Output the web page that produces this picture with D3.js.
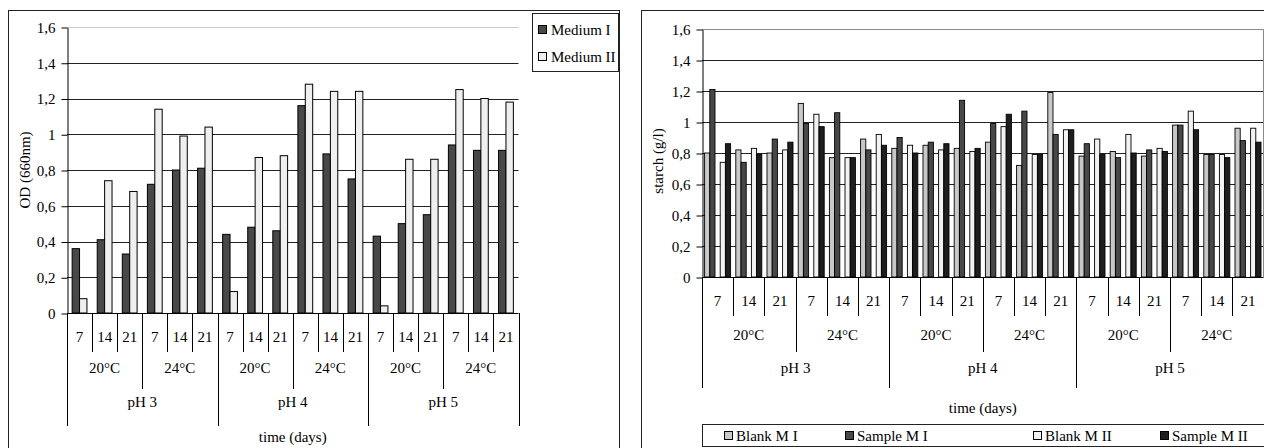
<!DOCTYPE html>
<html>
<head>
<meta charset="utf-8">
<script src="https://cdn.jsdelivr.net/npm/d3@7"></script>
<style>
  html, body { margin: 0; padding: 0; background: #fff; }
  svg { display: block; font-family: "Liberation Serif", "Times New Roman", serif; }
</style>
</head>
<body>
<svg id="chart" width="1264" height="448"></svg>
<script>
// category levels
var days = ["7", "14", "21"];
var temps = ["20°C", "24°C"];
var phs = ["pH 3", "pH 4", "pH 5"];
var yTicks = [0, 0.2, 0.4, 0.6, 0.8, 1.0, 1.2, 1.4, 1.6];

// left chart: OD (660nm)
var odMediumI  = [0.36, 0.41, 0.33, 0.72, 0.80, 0.81, 0.44, 0.48, 0.46, 1.16, 0.89, 0.75, 0.43, 0.50, 0.55, 0.94, 0.91, 0.91];
var odMediumII = [0.08, 0.74, 0.68, 1.14, 0.99, 1.04, 0.12, 0.87, 0.88, 1.28, 1.24, 1.24, 0.04, 0.86, 0.86, 1.25, 1.20, 1.18];

// right chart: starch (g/l)
var blankMI   = [0.80, 0.82, 0.80, 1.12, 0.77, 0.89, 0.83, 0.85, 0.83, 0.87, 0.72, 1.19, 0.78, 0.81, 0.78, 0.98, 0.79, 0.96];
var sampleMI  = [1.21, 0.74, 0.89, 0.99, 1.06, 0.82, 0.90, 0.87, 1.14, 0.99, 1.07, 0.92, 0.86, 0.77, 0.82, 0.98, 0.79, 0.88];
var blankMII  = [0.74, 0.83, 0.82, 1.05, 0.77, 0.92, 0.85, 0.82, 0.81, 0.97, 0.79, 0.95, 0.89, 0.92, 0.83, 1.07, 0.79, 0.96];
var sampleMII = [0.86, 0.79, 0.87, 0.97, 0.77, 0.85, 0.80, 0.86, 0.83, 1.05, 0.79, 0.95, 0.79, 0.80, 0.81, 0.95, 0.77, 0.87];

var FS = 15;

var cats = [];
phs.forEach(function(p){ temps.forEach(function(t){ days.forEach(function(d){
    cats.push({ph: p, temp: t, day: d});
}); }); });

var svg = d3.select("#chart");

function fmt(v){ return String(+v.toFixed(1)).replace(".", ","); }

/**
 * draws one panel: frame, grid, axes, category levels
 */
function drawPanel(cfg){
    var g = svg.append("g");

    g.append("rect")
        .attr("x", cfg.frame[0] + 0.5).attr("y", cfg.frame[1] + 0.5)
        .attr("width", cfg.frame[2]).attr("height", cfg.frame[3])
        .attr("fill", "#fff").attr("stroke", "#222").attr("stroke-width", 1);

    var x = d3.scaleBand().domain(d3.range(cats.length)).range([cfg.x0, cfg.x1]);
    var y = d3.scaleLinear().domain([0, 1.6]).range([cfg.yZero, cfg.yTop]);

    // grid lines
    g.selectAll(".grid").data(yTicks.filter(function(v){ return v > 0; }))
        .enter().append("line")
        .attr("x1", cfg.x0).attr("x2", cfg.x1)
        .attr("y1", function(d){ return Math.round(y(d)) + 0.5; })
        .attr("y2", function(d){ return Math.round(y(d)) + 0.5; })
        .attr("stroke", function(d){ return d === 1.6 ? cfg.topColor : "#222"; })
        .attr("stroke-width", 1);

    if (cfg.rightBorder) {
        g.append("line")
            .attr("x1", Math.round(cfg.x1) - 0.5).attr("x2", Math.round(cfg.x1) - 0.5)
            .attr("y1", Math.round(y(1.6)) + 0.5).attr("y2", cfg.yZero)
            .attr("stroke", cfg.topColor);
    }

    cfg.drawBars(g, x, y);

    // y axis
    var yAxis = d3.axisLeft(y).tickValues(yTicks).tickSize(6).tickSizeOuter(0).tickPadding(6).tickFormat(fmt);
    var ya = g.append("g")
        .attr("transform", "translate(" + (cfg.x0 + 0.5) + ",0.5)")
        .call(yAxis);
    ya.attr("font-family", null);
    ya.selectAll("text").attr("font-size", FS).attr("fill", "#000");
    ya.selectAll("line, path").attr("stroke", "#000");

    // category axis line
    g.append("line")
        .attr("x1", cfg.x0).attr("x2", cfg.x1)
        .attr("y1", cfg.yZero + 0.5).attr("y2", cfg.yZero + 0.5)
        .attr("stroke", "#000");

    // level separators
    var bounds = d3.range(cats.length + 1);
    g.selectAll(".sep").data(bounds).enter().append("line")
        .attr("x1", function(i){ return Math.round(i < cats.length ? x(i) : cfg.x1) + 0.5; })
        .attr("x2", function(i){ return Math.round(i < cats.length ? x(i) : cfg.x1) + 0.5; })
        .attr("y1", cfg.yZero)
        .attr("y2", function(i){ return i % 6 === 0 ? cfg.levels[2] : (i % 3 === 0 ? cfg.levels[1] : cfg.levels[0]); })
        .attr("stroke", "#000");

    // day labels
    g.selectAll(".day").data(cats).enter().append("text")
        .attr("x", function(d, i){ return x(i) + x.bandwidth() / 2; })
        .attr("y", cfg.labelY[0])
        .attr("text-anchor", "middle").attr("dominant-baseline", "central")
        .attr("font-size", FS)
        .text(function(d){ return d.day; });

    // temperature labels
    var tempGroups = d3.range(cats.length / 3);
    g.selectAll(".temp").data(tempGroups).enter().append("text")
        .attr("x", function(k){ return x(k * 3) + x.step() * 1.5; })
        .attr("y", cfg.labelY[1])
        .attr("text-anchor", "middle").attr("dominant-baseline", "central")
        .attr("font-size", FS)
        .text(function(k){ return cats[k * 3].temp; });

    // pH labels
    var phGroups = d3.range(cats.length / 6);
    g.selectAll(".ph").data(phGroups).enter().append("text")
        .attr("x", function(k){ return x(k * 6) + x.step() * 3; })
        .attr("y", cfg.labelY[2])
        .attr("text-anchor", "middle").attr("dominant-baseline", "central")
        .attr("font-size", FS)
        .text(function(k){ return cats[k * 6].ph; });

    // axis titles
    g.append("text")
        .attr("x", (cfg.x0 + cfg.x1) / 2).attr("y", cfg.labelY[3])
        .attr("text-anchor", "middle").attr("dominant-baseline", "central")
        .attr("font-size", FS)
        .text("time (days)");

    g.append("text")
        .attr("transform", "translate(" + cfg.yTitle[0] + "," + cfg.yTitle[1] + ") rotate(-90)")
        .attr("text-anchor", "middle").attr("dominant-baseline", "central")
        .attr("font-size", FS)
        .text(cfg.yLabel);

    return g;
}

// ---------- left chart ----------
var leftSeries = [
    {name: "Medium I",  values: odMediumI,  fill: "#484848"},
    {name: "Medium II", values: odMediumII, fill: "#efefef"}
];

var left = drawPanel({
    frame: [8, 10, 611, 445],
    x0: 67, x1: 518.5, yTop: 27, yZero: 313,
    topColor: "#c8c8c8", rightBorder: false,
    levels: [352, 389, 426],
    labelY: [337, 368, 402, 437],
    yTitle: [25, 170], yLabel: "OD (660nm)",
    drawBars: function(g, x, y){
        var bw = 7.4;
        leftSeries.forEach(function(s, si){
            g.selectAll(".b" + si).data(s.values).enter().append("rect")
                .attr("x", function(d, i){ return x(i) + x.bandwidth() / 2 - bw + si * bw; })
                .attr("y", function(d){ return y(d); })
                .attr("width", bw)
                .attr("height", function(d){ return y(0) - y(d); })
                .attr("fill", s.fill).attr("stroke", "#000").attr("stroke-width", 1);
        });
    }
});

// left legend
var lg = svg.append("g");
lg.append("rect").attr("x", 532.5).attr("y", 13.5).attr("width", 86).attr("height", 58)
    .attr("fill", "#fff").attr("stroke", "#222");
leftSeries.forEach(function(s, i){
    lg.append("rect").attr("x", 538.5).attr("y", 25.5 + i * 27).attr("width", 8).attr("height", 8)
        .attr("fill", s.fill).attr("stroke", "#000");
    lg.append("text").attr("x", 551).attr("y", 30 + i * 27)
        .attr("dominant-baseline", "central").attr("font-size", FS)
        .text(s.name);
});

// ---------- right chart ----------
var rightSeries = [
    {name: "Blank M I",   values: blankMI,   fill: "#c8c8c8", slot: 0, lx: 724},
    {name: "Sample M I",  values: sampleMI,  fill: "#484848", slot: 1, lx: 845},
    {name: "Blank M II",  values: blankMII,  fill: "#f2f2f2", slot: 3, lx: 1033},
    {name: "Sample M II", values: sampleMII, fill: "#1e1e1e", slot: 4, lx: 1160}
];

var right = drawPanel({
    frame: [641, 10, 640, 445],
    x0: 702, x1: 1263.6, yTop: 29, yZero: 277,
    topColor: "#8a8a8a", rightBorder: true,
    levels: [316, 352, 388],
    labelY: [301, 335, 368, 408],
    yTitle: [658, 161], yLabel: "starch (g/l)",
    drawBars: function(g, x, y){
        var slots = d3.scaleBand().domain(d3.range(5)).range([0, x.bandwidth()]).paddingOuter(0.5);
        rightSeries.forEach(function(s, si){
            g.selectAll(".r" + si).data(s.values).enter().append("rect")
                .attr("x", function(d, i){ return x(i) + slots(s.slot); })
                .attr("y", function(d){ return y(d); })
                .attr("width", slots.bandwidth())
                .attr("height", function(d){ return y(0) - y(d); })
                .attr("fill", s.fill).attr("stroke", "#000").attr("stroke-width", 0.9);
        });
    }
});

// right legend
var rg = svg.append("g");
rg.append("rect").attr("x", 702.5).attr("y", 424.5).attr("width", 600).attr("height", 22)
    .attr("fill", "#fff").attr("stroke", "#222");
rightSeries.forEach(function(s){
    rg.append("rect").attr("x", s.lx + 0.5).attr("y", 431.5).attr("width", 8).attr("height", 8)
        .attr("fill", s.fill).attr("stroke", "#000");
    rg.append("text").attr("x", s.lx + 12).attr("y", 436)
        .attr("dominant-baseline", "central").attr("font-size", FS)
        .text(s.name);
});
</script>
</body>
</html>
